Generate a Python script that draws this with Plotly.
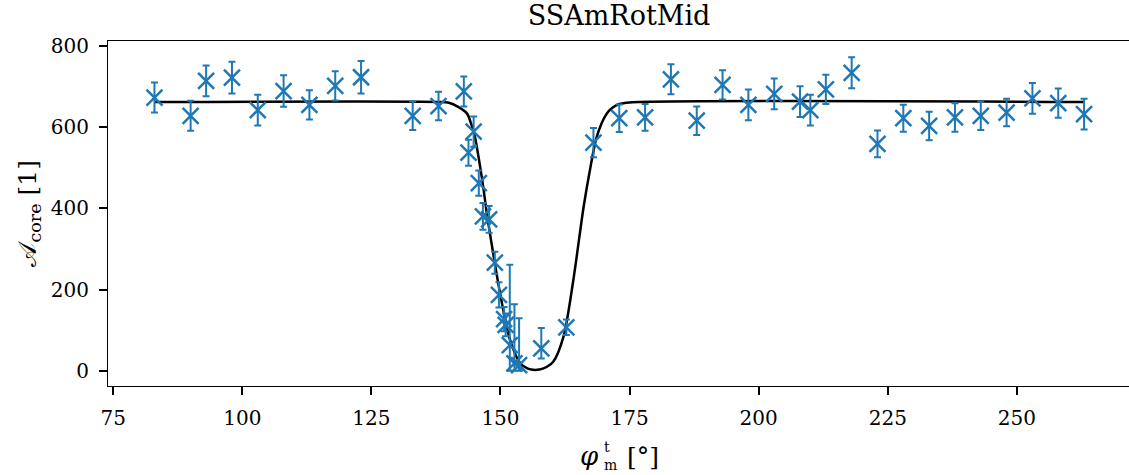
import plotly.graph_objects as go

# Measured core amplitude vs. magnet angle
phi = [83, 90, 93, 98, 103, 108, 113, 118, 123, 133, 138, 142.9, 143.8, 144.8,
       145.8, 146.6, 147.8, 148.9, 149.7, 150.7, 151.0, 151.8, 152.7, 153.6,
       157.9, 162.75, 168, 173, 178, 183, 188, 193, 198, 203, 208, 210, 213,
       218, 223, 228, 233, 238, 243, 248, 253, 258, 263]
amp = [673, 628, 714, 722, 642, 689, 655, 702, 723, 628, 652, 688, 537, 589,
       462, 380, 373, 266, 187, 127, 113, 63, 18, 14,
       55, 107, 562, 622, 624, 718, 616, 704, 655, 682, 663, 642, 693,
       734, 559, 622, 603, 624, 628, 636, 671, 659, 632]
err_up = [37, 37, 38, 39, 38, 39, 36, 36, 40, 35, 35, 37, 32, 37,
          31, 33, 33, 27, 31, 30, 28, 198, 146, 115,
          50, 19, 36, 34, 33, 37, 35, 36, 38, 38, 38, 38, 36,
          38, 33, 33, 35, 35, 35, 34, 38, 36, 38]
err_dn = [37, 37, 38, 39, 38, 39, 36, 36, 40, 35, 35, 37, 32, 37,
          31, 33, 33, 27, 31, 30, 28, 63, 18, 14,
          25, 19, 36, 34, 33, 37, 35, 36, 38, 38, 38, 38, 36,
          38, 33, 33, 35, 35, 35, 34, 38, 36, 38]

# Fitted dip profile
fit_phi = [83, 138, 140, 141.8, 143.5, 144.4, 144.9, 146.4, 147.5, 148.9, 149.9,
           151.8, 153.8, 155.3, 156.7, 158.2, 160.2, 162.2, 164.1, 166.1, 167.4,
           168.5, 169.6, 170.5, 171.6, 173, 175, 263]
fit_amp = [662, 662, 660, 650, 634, 605, 585, 475, 375, 265, 192,
           78, 19, 5, 2, 5, 22, 84, 223, 404, 500,
           570, 610, 632, 647, 657, 661, 662]

x_ticks = [75, 100, 125, 150, 175, 200, 225, 250]
y_ticks = [0, 200, 400, 600, 800]

BLUE = "#1f77b4"
FONT = "DejaVu Serif"

fig = go.Figure()
fig.add_trace(go.Scatter(
    x=fit_phi, y=fit_amp, mode="lines",
    line=dict(color="black", width=2.5, shape="spline", smoothing=0.8),
    showlegend=False, hoverinfo="skip"))
fig.add_trace(go.Scatter(
    x=phi, y=amp, mode="markers",
    marker=dict(symbol="x-thin", size=16, color=BLUE, line=dict(color=BLUE, width=2.5)),
    error_y=dict(type="data", symmetric=False, array=err_up, arrayminus=err_dn,
                 color=BLUE, thickness=2, width=3.5),
    showlegend=False))

axis_common = dict(
    showgrid=False, zeroline=False, showline=True, linecolor="black", linewidth=1.2,
    ticks="outside", ticklen=8, tickwidth=1.8, tickcolor="black",
    tickfont=dict(family=FONT, size=20, color="black"),
)

fig.update_layout(
    width=1129, height=475,
    margin=dict(l=108, r=0, t=41, b=89),
    paper_bgcolor="white", plot_bgcolor="white",
    font=dict(family=FONT, color="black"),
    title=dict(text="SSAmRotMid", x=(619 / 1129), xanchor="center",
               y=1 - 16 / 475, yanchor="middle", yref="container",
               font=dict(family=FONT, size=27, color="black")),
    xaxis=dict(range=[74, 271.7], tickvals=x_ticks, mirror=True,
               ticklabelstandoff=6, **axis_common),
    yaxis=dict(range=[-37.7, 812.3], tickvals=y_ticks, mirror=False,
               ticklabelstandoff=6, **axis_common),
)

# axis labels
fig.add_annotation(text="𝒜<sub>core</sub> [1]", xref="paper", yref="paper",
                   x=-80 / 1021, y=0.5, textangle=-90, showarrow=False,
                   xanchor="center", yanchor="middle",
                   font=dict(family=FONT, size=25, color="black"))
fig.add_annotation(text="<i>φ</i>", xref="paper", yref="paper",
                   x=(589 - 108) / 1021, y=(386 - 456) / 345, showarrow=False,
                   xanchor="center", yanchor="middle",
                   font=dict(family=FONT, size=26, color="black"))
fig.add_annotation(text="t", xref="paper", yref="paper",
                   x=(607 - 108) / 1021, y=(386 - 447) / 345, showarrow=False,
                   xanchor="center", yanchor="middle",
                   font=dict(family=FONT, size=14, color="black"))
fig.add_annotation(text="m", xref="paper", yref="paper",
                   x=(610 - 108) / 1021, y=(386 - 465) / 345, showarrow=False,
                   xanchor="center", yanchor="middle",
                   font=dict(family=FONT, size=14, color="black"))
fig.add_annotation(text="[°]", xref="paper", yref="paper",
                   x=(643 - 108) / 1021, y=(386 - 456) / 345, showarrow=False,
                   xanchor="center", yanchor="middle",
                   font=dict(family=FONT, size=25, color="black"))

fig.write_html("out.html")
